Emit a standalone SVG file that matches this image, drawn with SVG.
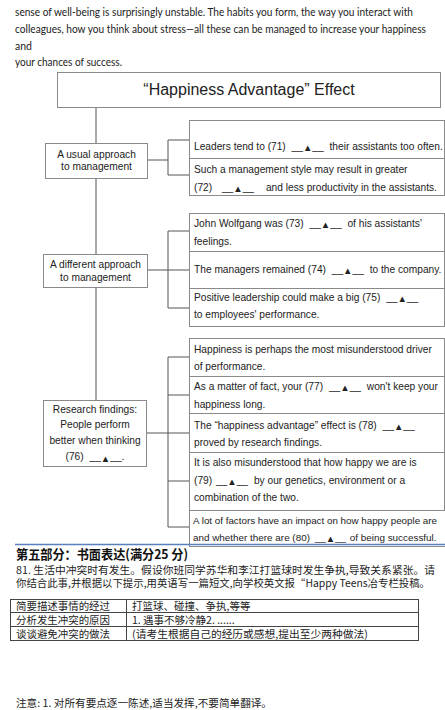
<svg xmlns="http://www.w3.org/2000/svg" width="445" height="710" viewBox="0 0 445 710">
<style>
.p{font-family:Lato,"Liberation Sans",sans-serif;font-size:10.5px;fill:#222}
.t{font-family:"Liberation Sans",Arial,sans-serif;font-size:10.2px;fill:#222}
.c{text-anchor:middle}
.tri{font-size:9.5px}
.box{fill:#fff;stroke:#8a8a8a;stroke-width:1}
.ln{fill:none;stroke:#555;stroke-width:1}
.cn{font-family:"Noto Sans CJK SC",sans-serif;font-size:10.5px;fill:#222}
.cs{font-family:"Noto Sans CJK SC",sans-serif;font-size:10px;fill:#222}
.h{font-family:"Noto Sans CJK SC",sans-serif;font-size:13px;font-weight:bold;fill:#111}
.tb{fill:none;stroke:#444;stroke-width:1}
</style>
<rect width="445" height="710" fill="#fff"/>

<g id="intro">
<text class="p" x="15" y="16" textLength="398" lengthAdjust="spacingAndGlyphs">sense of well-being is surprisingly unstable. The habits you form, the way you interact with</text>
<text class="p" x="15" y="32.5" textLength="411" lengthAdjust="spacingAndGlyphs">colleagues, how you think about stress—all these can be managed to increase your happiness</text>
<text class="p" x="15" y="50">and</text>
<text class="p" x="15" y="66" textLength="107" lengthAdjust="spacingAndGlyphs">your chances of success.</text>
</g>

<g id="connectors">
<path class="ln" d="M96 108V143M96 179V254M96 287V400"/>
<path class="ln" d="M148 160H168M168 140V175M168 140H189M168 175H189"/>
<path class="ln" d="M148 270H189M168 231V308M168 231H189M168 308H189"/>
<path class="ln" d="M147 433H189M168 357V527M168 357H189M168 395H189M168 481H189M168 527H189"/>
</g>

<g id="title">
<rect class="box" x="57.5" y="72.5" width="383" height="35"/>
<text x="249" y="95" class="c" style="font-family:'Liberation Sans',Arial,sans-serif;font-size:16px;fill:#222">“Happiness Advantage” Effect</text>
</g>

<g id="n1">
<rect class="box" x="45.5" y="143.5" width="102" height="35"/>
<text class="t c" x="96.5" y="157.5">A usual approach</text>
<text class="t c" x="96.5" y="170">to management</text>
</g>

<g id="n1-details">
<rect class="box" x="189.5" y="120.5" width="255" height="38"/>
<rect class="box" x="189.5" y="158.5" width="255" height="37"/>
<text class="t" x="194" y="149.5">Leaders tend to (71) <tspan dx="3">__</tspan><tspan class="tri" dy="1.5">▲</tspan><tspan dy="-1.5">__</tspan><tspan dx="3"> their assistants too often.</tspan></text>
<text class="t" x="194" y="172.5">Such a management style may result in greater</text>
<text class="t" x="194" y="190.5">(72) <tspan dx="7">__</tspan><tspan class="tri" dy="1.5">▲</tspan><tspan dy="-1.5">__</tspan><tspan dx="9"> and less productivity in the assistants.</tspan></text>
</g>

<g id="n2">
<rect class="box" x="43.5" y="254.5" width="104" height="33"/>
<text class="t c" x="95.5" y="267.5">A different approach</text>
<text class="t c" x="95.5" y="281">to management</text>
</g>

<g id="n2-details">
<rect class="box" x="189.5" y="213.5" width="255" height="38"/>
<rect class="box" x="189.5" y="251.5" width="255" height="37"/>
<rect class="box" x="189.5" y="288.5" width="255" height="38"/>
<text class="t" x="194" y="226.5">John Wolfgang was (73) <tspan dx="3">__</tspan><tspan class="tri" dy="1.5">▲</tspan><tspan dy="-1.5">__</tspan><tspan dx="3"> of his assistants'</tspan></text>
<text class="t" x="194" y="244.5">feelings.</text>
<text class="t" x="194" y="272.5">The managers remained (74) <tspan dx="3">__</tspan><tspan class="tri" dy="1.5">▲</tspan><tspan dy="-1.5">__</tspan><tspan dx="3"> to the company.</tspan></text>
<text class="t" x="194" y="300.5">Positive leadership could make a big (75) <tspan dx="3">__</tspan><tspan class="tri" dy="1.5">▲</tspan><tspan dy="-1.5">__</tspan></text>
<text class="t" x="194" y="317.5">to employees' performance.</text>
</g>

<g id="n3">
<rect class="box" x="43.5" y="400.5" width="103" height="66"/>
<text class="t c" x="95" y="413">Research findings:</text>
<text class="t c" x="95" y="428">People perform</text>
<text class="t c" x="95" y="444">better when thinking</text>
<text class="t c" x="95" y="460">(76) <tspan dx="3">__</tspan><tspan class="tri" dy="1.5">▲</tspan><tspan dy="-1.5">__</tspan>.</text>
</g>

<g id="n3-details">
<rect class="box" x="189.5" y="338.5" width="255" height="38"/>
<rect class="box" x="189.5" y="376.5" width="255" height="37"/>
<rect class="box" x="189.5" y="413.5" width="255" height="39"/>
<rect class="box" x="189.5" y="452.5" width="255" height="58"/>
<rect class="box" x="189.5" y="510.5" width="260" height="36"/>
<text class="t" x="194" y="352.5">Happiness is perhaps the most misunderstood driver</text>
<text class="t" x="194" y="369.5">of performance.</text>
<text class="t" x="194" y="389.5">As a matter of fact, your (77) <tspan dx="3">__</tspan><tspan class="tri" dy="1.5">▲</tspan><tspan dy="-1.5">__</tspan><tspan dx="3"> won't keep your</tspan></text>
<text class="t" x="194" y="407.5">happiness long.</text>
<text class="t" x="194" y="428.5">The “happiness advantage” effect is (78) <tspan dx="3">__</tspan><tspan class="tri" dy="1.5">▲</tspan><tspan dy="-1.5">__</tspan></text>
<text class="t" x="194" y="445.5">proved by research findings.</text>
<text class="t" x="194" y="465.5">It is also misunderstood that how happy we are is</text>
<text class="t" x="194" y="483.5">(79) <tspan dx="1">__</tspan><tspan class="tri" dy="1.5">▲</tspan><tspan dy="-1.5">__</tspan><tspan dx="3"> by our genetics, environment or a</tspan></text>
<text class="t" x="194" y="500.5">combination of the two.</text>
<text class="t" x="193" y="523.5" style="font-size:9.8px">A lot of factors have an impact on how happy people are</text>
<text class="t" x="193" y="540.5" style="font-size:9.9px">and whether there are (80) <tspan dx="2">__</tspan><tspan class="tri" dy="1.5">▲</tspan><tspan dy="-1.5">__</tspan><tspan dx="1"> of being successful.</tspan></text>
</g>

<line x1="15" y1="544.5" x2="445" y2="544.5" stroke="#5b7fbf" stroke-width="1.5"/>

<g id="writing">
<text class="h" x="16" y="559" textLength="172" lengthAdjust="spacingAndGlyphs">第五部分：书面表达(满分25 分)</text>
<text class="cs" x="16" y="573.5" textLength="419" lengthAdjust="spacingAndGlyphs">81. 生活中冲突时有发生。假设你班同学苏华和李江打篮球时发生争执,导致关系紧张。请</text>
<text class="cs" x="16" y="587" textLength="414" lengthAdjust="spacingAndGlyphs">你结合此事,并根据以下提示,用英语写一篇短文,向学校英文报“Happy Teens冶专栏投稿。</text>
</g>

<g id="table">
<rect class="tb" x="10.5" y="599.5" width="408" height="41"/>
<path class="tb" d="M10.5 612.5H418.5M10.5 626.5H418.5M126.5 599.5V640.5"/>
<text class="cn" x="16" y="610" textLength="94" lengthAdjust="spacingAndGlyphs">简要描述事情的经过</text>
<text class="cn" x="16" y="623.5" textLength="94" lengthAdjust="spacingAndGlyphs">分析发生冲突的原因</text>
<text class="cn" x="16" y="637.5" textLength="94" lengthAdjust="spacingAndGlyphs">谈谈避免冲突的做法</text>
<text class="cn" x="132" y="610">打篮球、碰撞、争执,等等</text>
<text class="cn" x="132" y="623.5">1. 遇事不够冷静2. ......</text>
<text class="cn" x="132" y="637.5" textLength="236" lengthAdjust="spacingAndGlyphs">(请考生根据自己的经历或感想,提出至少两种做法)</text>
</g>

<g id="note">
<text class="cn" x="16" y="707" textLength="256" lengthAdjust="spacingAndGlyphs">注意: 1. 对所有要点逐一陈述,适当发挥,不要简单翻译。</text>
</g>
</svg>
